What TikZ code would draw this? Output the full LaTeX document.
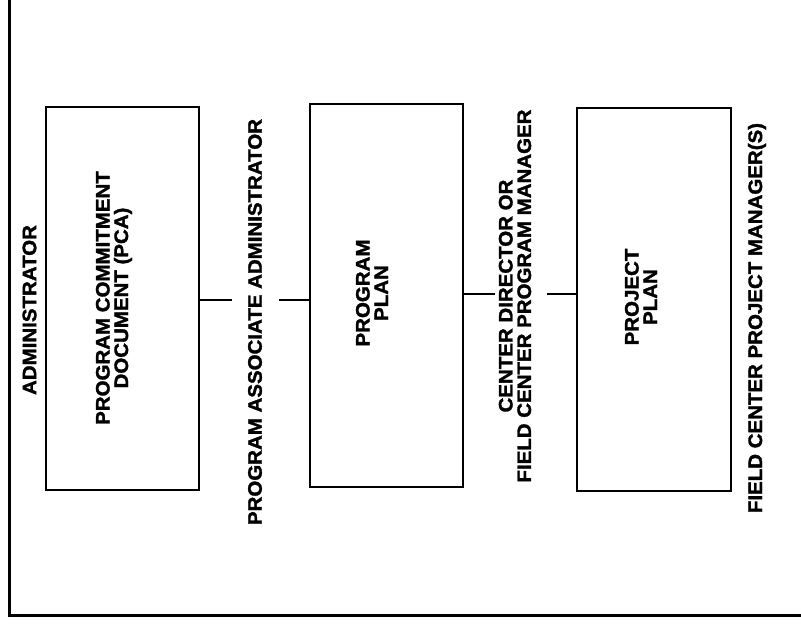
\documentclass[tikz,border=0pt]{standalone}
\usepackage{fontspec}
\newfontfamily\labfont[FakeStretch=1.05,BoldFeatures={FakeBold=1.6}]{Liberation Sans}
\begin{document}
\begin{tikzpicture}[x=1pt,y=-1pt,
  frameline/.style={line width=3pt},
  boxstyle/.style={draw,line width=1.4pt,inner sep=0pt},
  conn/.style={line width=1.4pt},
  lab/.style={rotate=90,align=center,inner sep=0pt,
    font=\labfont\bfseries\fontsize{19.5}{18.5}\selectfont}]
\useasboundingbox (0,0) rectangle (801,628);
\fill[white] (0,0) rectangle (801,628);
% frame
\coordinate (ftop) at (9,0);
\coordinate (fcorner) at (9,615);
\coordinate (fright) at (801,615);
\draw[frameline] (ftop) -- (fcorner) -- (fright);
% boxes
\node[boxstyle,minimum width=153pt,minimum height=383pt] (pca) at (122.5,298.5) {};
\node[boxstyle,minimum width=153pt,minimum height=383pt] (pp) at (386.5,295.5) {};
\node[boxstyle,minimum width=154pt,minimum height=383pt] (prj) at (654,299.5) {};
% labels
\node[lab] (adm) at (29.5,310) {ADMINISTRATOR};
\node[lab] (pcat) at (114,298) {PROGRAM COMMITMENT\\DOCUMENT (PCA)};
\node[lab] (paa) at (255,322) {PROGRAM ASSOCIATE ADMINISTRATOR};
\node[lab] (ppt) at (372,293) {PROGRAM\\PLAN};
\node[lab] (cd) at (515,296) {CENTER DIRECTOR OR\\FIELD CENTER PROGRAM MANAGER};
\node[lab] (prjt) at (641,297) {PROJECT\\PLAN};
\node[lab] (fcpm) at (757,318) {FIELD CENTER PROJECT MANAGER(S)};
% connectors
\coordinate (c1a) at (232,300);
\coordinate (c1b) at (279,300);
\coordinate (c2a) at (495,294);
\coordinate (c2b) at (547,294);
\draw[conn] (pca.east |- c1a) -- (c1a);
\draw[conn] (c1b) -- (pp.west |- c1b);
\draw[conn] (pp.east |- c2a) -- (c2a);
\draw[conn] (c2b) -- (prj.west |- c2b);
\end{tikzpicture}
\end{document}
